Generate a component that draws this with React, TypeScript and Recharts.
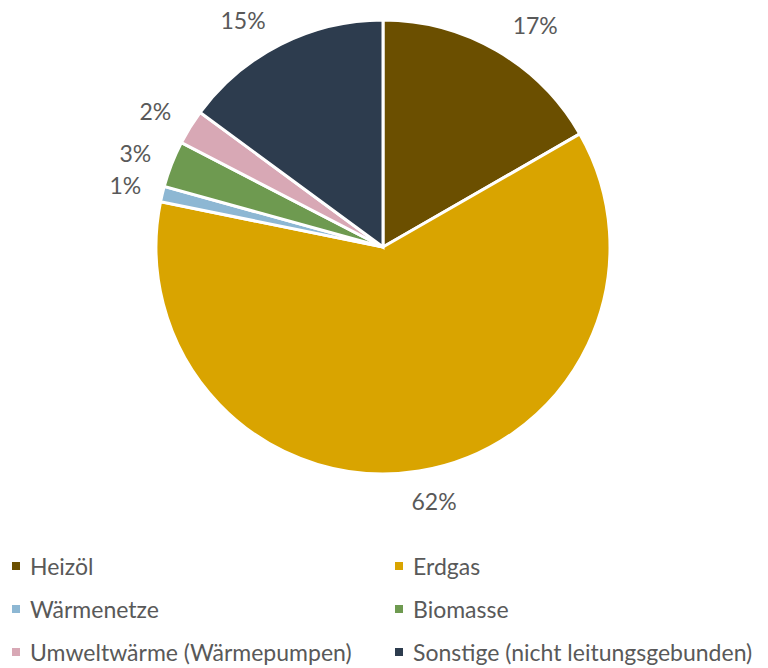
import { PieChart, Pie, Cell } from 'recharts'

const categories = ['Heizöl', 'Erdgas', 'Wärmenetze', 'Biomasse', 'Umweltwärme (Wärmepumpen)', 'Sonstige (nicht leitungsgebunden)']
const shares = [16.7, 61.5, 1.1, 3.3, 2.5, 14.9]
const labels = ['17%', '62%', '1%', '3%', '2%', '15%']
const colors = ['#6b4f00', '#d9a400', '#8db7d3', '#6e9a50', '#d8a8b5', '#2d3c4e']

const data = categories.map((name, i) => ({ name, value: shares[i], label: labels[i] }))

const CX = 383
const CY = 247
const R = 227
// Excel's label placement: angular nudge (deg, clockwise) and distance from centre
const nudge = [4.4, -2.2, 0, -0.6, -1.1, -4.8]
const labelDist = [269, 259, 265, 265, 265, 267]

function renderLabel(props: any) {
  const { midAngle, index } = props
  // recharts midAngle: degrees counter-clockwise from 3 o'clock
  const a = ((midAngle - nudge[index]) * Math.PI) / 180
  const x = CX + labelDist[index] * Math.cos(a)
  const y = CY - labelDist[index] * Math.sin(a)
  return (
    <text x={x} y={y} fill="#595959" fontSize={23} fontFamily="Lato" textAnchor="middle" dominantBaseline="central">
      {data[index].label}
    </text>
  )
}

function LegendBox() {
  return (
    <div style={{ position: 'absolute', left: 0, top: 554, width: 768, display: 'grid', gridTemplateColumns: '383px 385px', rowGap: 19, fontFamily: 'Lato', fontSize: 23, color: '#595959' }}>
      {categories.map((c, i) => (
        <div key={c} style={{ display: 'flex', alignItems: 'center', height: 24, paddingLeft: 12, whiteSpace: 'nowrap' }}>
          <span style={{ width: 8, height: 8, background: colors[i], display: 'inline-block', marginRight: 10, flexShrink: 0 }} />
          <span>{c}</span>
        </div>
      ))}
    </div>
  )
}

export default function App() {
  return (
    <div style={{ position: 'absolute', left: 0, top: 0, width: 768, height: 668, background: '#fff' }}>
      <PieChart width={768} height={548} margin={{ top: 0, right: 0, bottom: 0, left: 0 }}>
        <Pie
          data={data}
          dataKey="value"
          cx={CX}
          cy={CY}
          outerRadius={R}
          startAngle={90}
          endAngle={-270}
          stroke="#fff"
          strokeWidth={3}
          label={renderLabel}
          labelLine={false}
          isAnimationActive={false}
        >
          {data.map((d, i) => <Cell key={d.name} fill={colors[i]} />)}
        </Pie>
      </PieChart>
      <LegendBox />
    </div>
  )
}
